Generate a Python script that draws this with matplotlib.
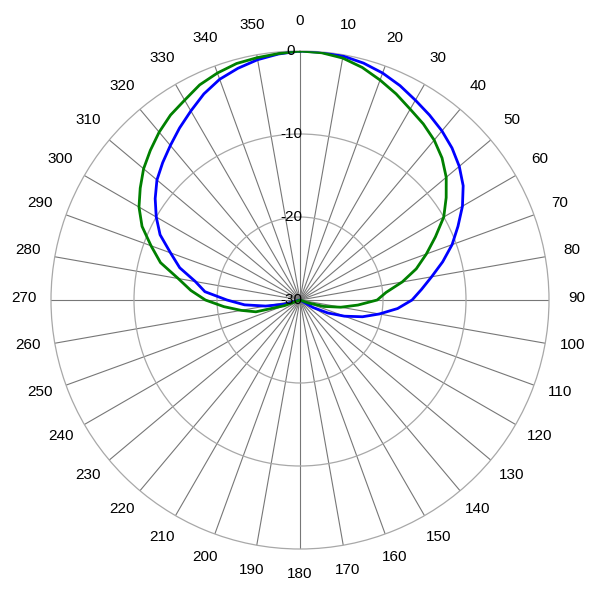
import numpy as np
import matplotlib
matplotlib.use('Agg')
import matplotlib.pyplot as plt

# pattern cuts, dB vs azimuth in degrees (clipped at -30)
angles = list(range(0, 360, 5))

blue_db = [0.0, -0.05, -0.15, -0.45, -0.9, -1.5, -2.2, -2.8, -3.4, -4.1,
           -4.95, -6.0, -7.4, -9.0, -10.5, -12.2, -13.9, -15.3, -16.5, -18.2,
           -20.3, -22.2, -24.3, -26.3, -28.2, -30, -30, -30, -30, -30,
           -30, -30, -30, -30, -30, -30, -30, -30, -30, -30,
           -30, -30, -30, -30, -30, -30, -30, -30, -30, -30,
           -30, -28.0, -25.8, -23.3, -21.2, -18.5, -17.2, -15.0, -13.4, -11.4,
           -10.0, -8.7, -7.5, -6.6, -5.7, -4.7, -3.7, -2.6, -1.7, -1.1,
           -0.6, -0.25]

green_db = [0.0, -0.1, -0.4, -1.0, -1.8, -2.6, -3.45, -4.1, -4.85, -5.8,
            -7.0, -8.5, -10.0, -12.0, -13.8, -15.5, -17.5, -19.6, -20.7, -23.0,
            -25.0, -27.0, -29.0, -30, -30, -30, -30, -30, -30, -30,
            -30, -30, -30, -30, -30, -30, -30, -30, -30, -30,
            -30, -30, -30, -30, -30, -30, -30, -30, -30, -30,
            -28.0, -24.5, -22.8, -20.8, -18.6, -16.8, -15.1, -12.6, -10.9, -9.0,
            -7.6, -6.5, -5.4, -4.5, -3.6, -2.8, -2.2, -1.4, -0.9, -0.5,
            -0.35, -0.2]

ring_values = [0, -10, -20, -30]
spoke_angles = list(range(0, 360, 10))

plt.rcParams['font.family'] = ['Liberation Sans', 'DejaVu Sans']

fig = plt.figure(figsize=(6, 6), dpi=100)
ax = fig.add_axes([0.085, 0.085, 0.83, 0.83], projection='polar')
ax.set_theta_zero_location('N')
ax.set_theta_direction(-1)
ax.set_rlim(-30, 0)

# closed curves
th = np.deg2rad(angles + [360])
ax.plot(th, blue_db + blue_db[:1], color='#0000ff', lw=2, zorder=4)
ax.plot(th, green_db + green_db[:1], color='#008000', lw=2, zorder=5)

ax.set_thetagrids(spoke_angles, labels=[''] * len(spoke_angles))
ax.set_rgrids([-20, -10], labels=['', ''])
ax.xaxis.grid(True, color='#777777', lw=0.8, ls='-')
ax.yaxis.grid(True, color='#a8a8a8', lw=0.9, ls='-')
ax.spines['polar'].set_color('#a8a8a8')
ax.spines['polar'].set_linewidth(0.9)

# angle labels outside the circle
for a in spoke_angles:
    ax.annotate(str(a), xy=(np.deg2rad(a), 3.3), xytext=(0, 2.5),
                textcoords='offset pixels', ha='center', va='center',
                fontsize=11, annotation_clip=False)

# level labels along the 0 spoke
for v in ring_values:
    ax.annotate(str(v), xy=(0, v), xytext=(-9, 0), textcoords='offset pixels',
                ha='center', va='center', fontsize=11, zorder=6)

fig.savefig('out.png', dpi=100)
